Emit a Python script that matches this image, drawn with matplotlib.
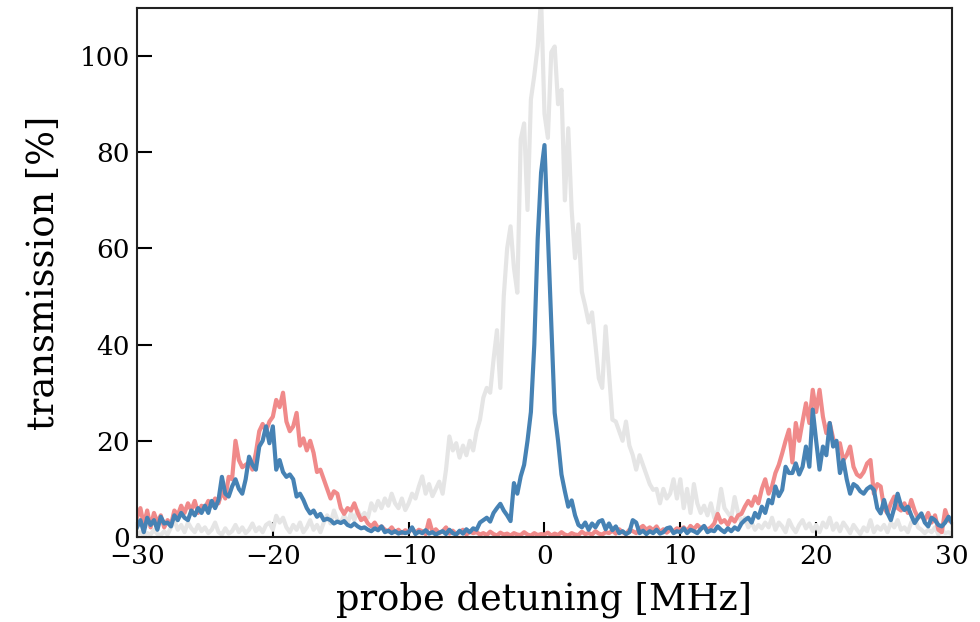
import numpy as np
import matplotlib
matplotlib.use("Agg")
import matplotlib.pyplot as plt

plt.rcParams['font.family'] = ['DejaVu Serif']

detuning = np.linspace(-30, 30, 241)

red_trace = [
    4.0, 6.0, 2.5, 5.5, 2.0, 5.0, 3.0, 4.5, 2.0, 3.5, 2.5, 5.5, 4.5, 6.5, 5.0, 7.0, 5.5, 7.5, 5.0, 6.5,
    6.0, 7.5, 6.5, 8.0, 7.0, 9.5, 8.0, 12.5, 12.0, 20.0, 16.0, 14.5, 15.0, 15.5, 14.0, 17.5, 22.0, 23.5, 22.0, 24.0,
    25.0, 28.5, 27.0, 30.0, 24.0, 22.0, 23.0, 25.8, 19.0, 20.5, 18.0, 20.0, 17.5, 13.5, 14.0, 12.0, 10.0, 8.0, 9.5, 9.0,
    6.0, 4.8, 6.0, 5.5, 7.0, 5.0, 3.5, 4.0, 2.8, 2.2, 3.0, 1.8, 2.2, 1.5, 1.2, 2.0, 1.0, 1.5, 0.8, 1.4,
    1.0, 1.8, 0.8, 1.5, 1.2, 0.6, 3.5, 1.0, 1.6, 0.8, 1.2, 2.0, 0.7, 1.3, 0.6, 1.0, 1.5, 0.5, 1.1, 0.8,
    1.0, 0.5, 0.8, 0.4, 1.1, 0.6, 0.3, 0.9, 0.5, 0.7, 0.3, 0.8, 0.5, 0.4, 1.0, 0.5, 0.3, 0.8, 0.4, 0.6,
    0.5, 0.9, 0.3, 0.7, 0.4, 1.0, 0.5, 0.3, 0.8, 0.5, 0.4, 1.1, 0.6, 0.8, 0.5, 1.2, 0.7, 0.5, 1.0, 0.8,
    1.3, 0.7, 1.6, 1.0, 0.6, 1.5, 1.2, 0.8, 1.8, 2.3, 1.5, 2.0, 1.4, 2.2, 1.0, 1.6, 0.9, 1.5, 1.2, 1.8,
    1.5, 2.0, 1.2, 2.3, 1.6, 2.5, 1.8, 2.2, 1.5, 2.0, 2.8, 4.8, 3.0, 3.5, 2.5, 4.0, 3.2, 4.5, 4.8, 6.3,
    7.5, 6.5, 8.4, 7.0, 10.0, 12.0, 9.0, 10.5, 13.3, 15.0, 17.4, 20.0, 22.3, 15.5, 23.7, 20.0, 24.0, 27.8, 23.7, 30.6,
    26.0, 30.6, 25.0, 21.6, 23.7, 20.5, 18.8, 19.5, 16.0, 17.0, 18.8, 14.6, 13.0, 12.5, 13.5, 15.3, 16.0, 9.0, 11.0, 10.5,
    6.0, 4.9, 7.0, 8.4, 6.0, 5.5, 7.0, 5.0, 7.7, 5.5, 4.0, 4.5, 3.5, 5.0, 3.0, 4.5, 1.5, 1.0, 5.6, 3.5, 3.0,
]

blue_trace = [
    2.0, 3.5, 1.0, 4.0, 2.5, 3.5, 1.5, 4.2, 2.8, 3.0, 2.2, 4.5, 3.5, 5.0, 4.0, 3.5, 5.5, 4.5, 6.0, 5.0,
    6.5, 5.0, 7.5, 6.0, 7.7, 12.5, 9.0, 8.4, 10.5, 12.0, 10.0, 9.0, 12.0, 16.7, 15.0, 14.0, 18.8, 20.0, 23.0, 19.5,
    23.0, 14.0, 16.0, 13.5, 12.5, 13.0, 12.0, 8.4, 9.0, 7.7, 6.0, 4.9, 5.5, 4.2, 4.8, 3.5, 3.8, 3.5, 2.8, 3.2,
    2.9, 3.3, 2.5, 2.2, 2.8, 2.2, 1.8, 2.0, 1.5, 1.2, 1.8, 1.4, 2.2, 1.0, 1.3, 0.8, 1.2, 0.7, 1.0, 0.8,
    1.0, 2.0, 0.6, 1.1, 0.8, 1.4, 0.7, 1.0, 0.5, 0.9, 1.2, 0.6, 1.5, 0.8, 0.5, 1.3, 0.7, 1.6, 1.0, 1.8,
    1.5, 3.0, 3.5, 4.0, 3.2, 5.0, 6.0, 6.9, 5.5, 4.5, 3.3, 11.2, 9.0, 12.6, 15.0, 20.0, 26.0, 40.0, 62.0, 75.8,
    81.5, 63.0, 45.0, 25.8, 20.0, 13.0, 9.5, 6.3, 7.6, 4.5, 2.5, 2.0, 3.0, 1.5, 2.8, 2.0, 3.2, 3.5, 1.6, 2.8,
    1.4, 2.2, 0.8, 1.2, 0.6, 1.0, 3.5, 3.0, 0.8, 1.3, 0.6, 1.2, 0.8, 1.5, 0.7, 1.0, 1.8, 2.0, 0.8, 1.2,
    1.0, 1.8, 0.8, 1.5, 1.2, 0.8, 1.6, 2.3, 1.0, 1.4, 1.2, 2.2, 1.5, 1.0, 1.8, 1.2, 2.0, 1.5, 2.8, 3.5,
    4.0, 3.0, 5.0, 4.0, 6.3, 5.0, 7.7, 7.0, 10.5, 8.5, 9.8, 14.6, 13.3, 13.3, 15.3, 13.0, 14.6, 18.8, 14.6, 26.5,
    20.0, 14.0, 18.8, 17.0, 23.7, 18.8, 20.0, 13.3, 16.0, 12.0, 9.0, 11.0, 10.5, 9.5, 9.0, 10.0, 10.5, 9.8, 6.0, 4.9,
    7.7, 5.0, 3.5, 6.0, 9.0, 6.5, 5.6, 6.3, 4.5, 2.9, 4.0, 4.9, 3.0, 2.2, 4.0, 3.5, 2.5, 2.2, 3.0, 4.2, 3.0,
]

gray_trace = [
    0.5, 1.0, 0.3, 0.8, 0.5, 1.5, 0.6, 0.4, 1.2, 0.5, 2.0, 3.5, 1.5, 2.5, 1.0, 3.0, 1.8, 1.0, 2.5, 1.2,
    2.0, 0.8, 1.5, 3.0, 1.0, 0.5, 1.8, 0.7, 1.2, 2.5, 1.0, 2.0, 0.8, 1.5, 2.8, 1.2, 2.0, 1.0, 2.5, 3.0,
    1.5, 4.4, 3.0, 4.0, 2.0, 1.0, 2.5, 1.5, 3.0, 1.0, 2.0, 3.5, 1.5, 2.5, 1.0, 3.0, 4.5, 2.8, 5.5, 3.5,
    3.0, 4.5, 2.8, 5.0, 3.5, 5.5, 4.0, 5.0, 4.0, 7.0, 5.5, 7.5, 6.0, 8.0, 6.5, 9.0, 7.0, 6.0, 8.0, 5.6,
    7.0, 9.0, 8.0, 10.5, 12.6, 9.0, 11.0, 8.5, 10.0, 11.5, 9.0, 14.0, 20.9, 18.0, 19.5, 16.5, 19.0, 17.0, 20.0, 18.0,
    22.0, 24.4, 29.0, 31.0, 30.0, 36.9, 43.0, 31.0, 50.0, 60.0, 64.6, 56.0, 50.8, 82.7, 86.0, 68.0, 91.0, 96.0, 102.0, 112.0,
    88.0, 83.0, 100.8, 102.0, 90.0, 93.0, 70.0, 85.0, 68.0, 58.0, 65.0, 51.0, 48.0, 44.6, 46.7, 40.0, 33.0, 31.0, 43.8, 34.0,
    24.4, 24.0, 22.0, 20.0, 24.0, 19.0, 17.0, 14.0, 17.0, 15.0, 13.0, 11.0, 9.8, 10.0, 7.0, 10.0, 8.0, 9.0, 12.0, 8.0,
    12.0, 6.0, 10.0, 5.0, 11.0, 7.0, 5.0, 6.5, 4.5, 7.0, 4.0, 5.5, 10.0, 6.0, 5.0, 4.0, 8.3, 5.0, 3.0, 4.0,
    2.0, 3.0, 1.5, 2.5, 1.8, 3.0, 2.0, 4.0, 1.5, 3.0, 2.2, 1.0, 3.5, 2.0, 1.0, 2.5, 3.5, 1.8, 2.8, 1.2,
    2.5, 1.0, 3.0, 2.0, 4.0, 1.5, 2.8, 1.2, 3.0, 2.0, 0.8, 2.5, 1.5, 0.6, 2.0, 1.2, 3.5, 1.0, 2.2, 1.5,
    2.5, 1.0, 3.0, 2.0, 3.5, 1.5, 2.0, 1.0, 3.0, 4.0, 2.0, 1.5, 0.8, 1.5, 1.0, 2.0, 0.5, 1.5, 0.8, 1.0, 0.5,
]

xticks = [-30, -20, -10, 0, 10, 20, 30]
yticks = [0, 20, 40, 60, 80, 100]

fig = plt.figure(figsize=(9.8, 6.22), dpi=100)
ax = fig.add_axes([0.1398, 0.1367, 0.8316, 0.8504])

ax.plot(detuning, gray_trace, color='#e5e5e5', lw=3.0)
ax.plot(detuning, red_trace, color='#f08a8a', lw=3.0)
ax.plot(detuning, blue_trace, color='#4682b4', lw=3.0)

ax.set_xlim(-30, 30)
ax.set_ylim(0, 110)
ax.set_xticks(xticks)
ax.set_yticks(yticks)
ax.tick_params(direction='in', length=11, width=1.5, labelsize=19,
               top=False, right=False, pad=5)
for s in ax.spines.values():
    s.set_linewidth(1.5)
    s.set_color('#222222')

ax.set_xlabel('probe detuning [MHz]', fontsize=26.5, labelpad=9)
ax.set_ylabel('transmission [%]', fontsize=26.5, labelpad=13)

fig.savefig('out.png', dpi=100)
